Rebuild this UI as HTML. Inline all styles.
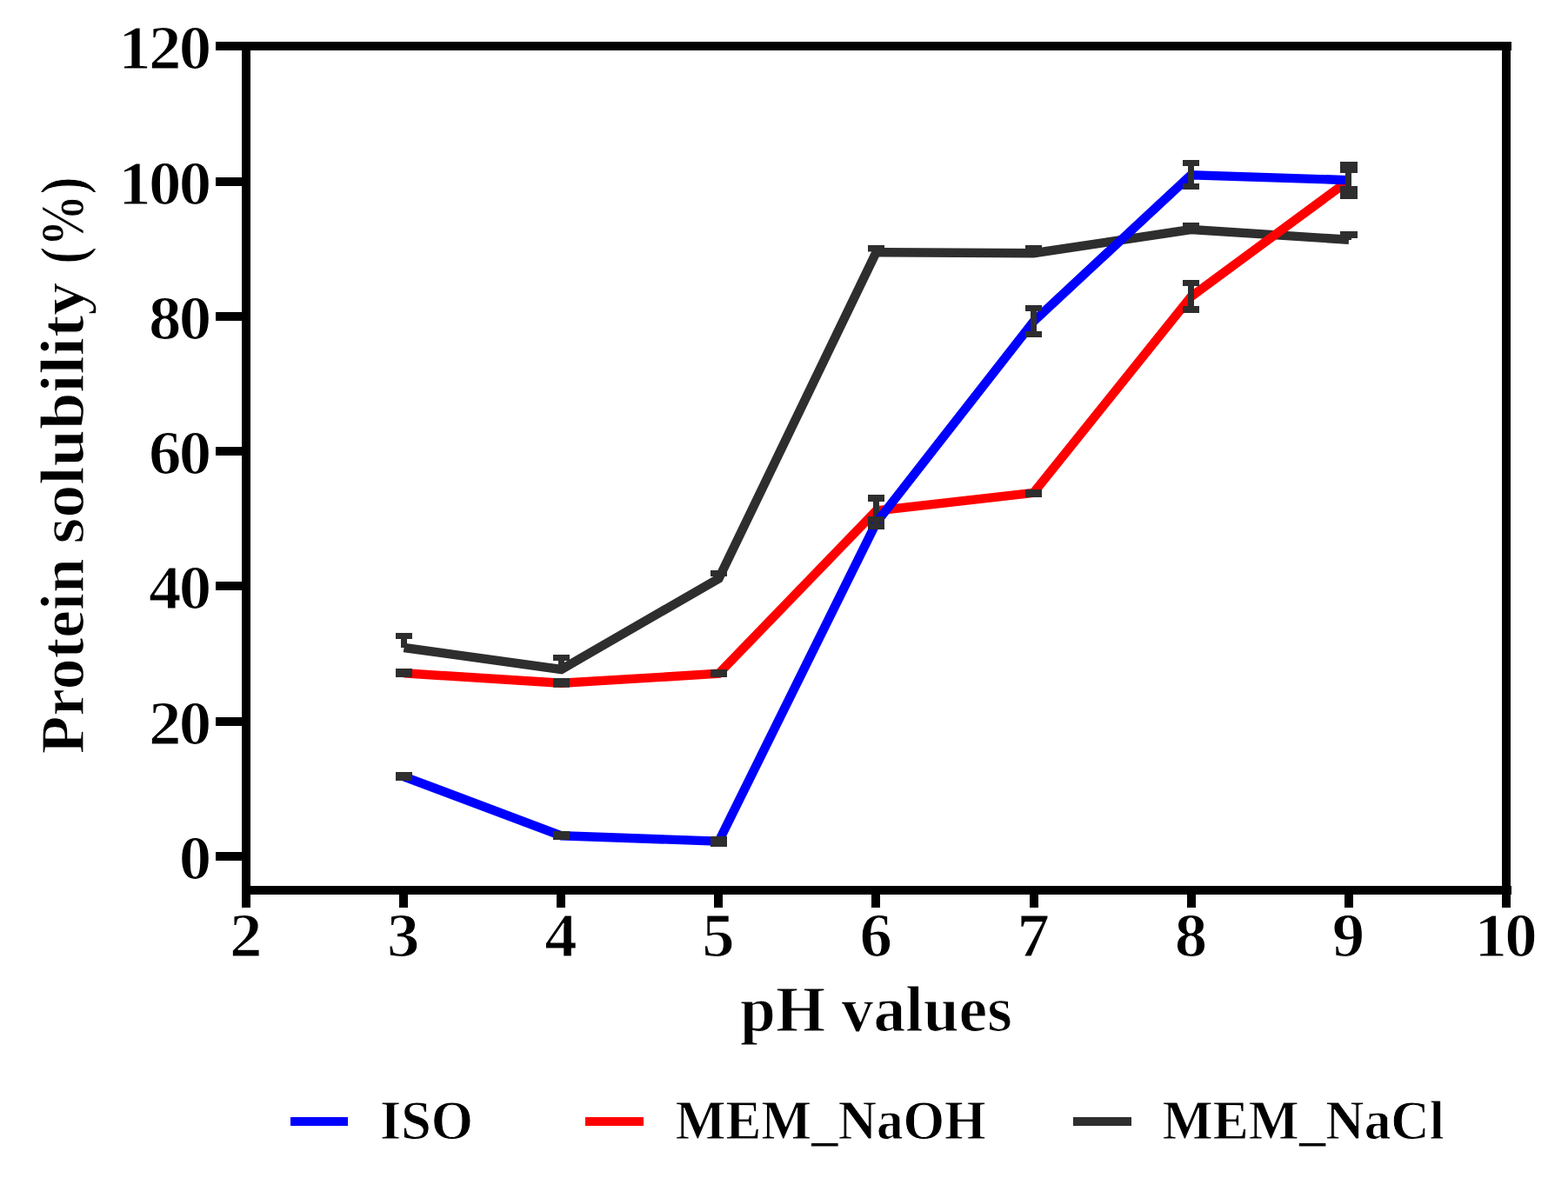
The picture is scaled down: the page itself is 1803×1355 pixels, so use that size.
<!DOCTYPE html>
<html lang="en">
<head>
<meta charset="utf-8">
<title>Protein solubility vs pH values</title>
<style>
html,body{margin:0;padding:0;background:#fff;}
body{width:1803px;height:1355px;overflow:hidden;}
svg{display:block;}
text{font-family:"Liberation Serif","DejaVu Serif",serif;font-weight:bold;fill:#000;stroke:#fff;stroke-width:1.2px;stroke-linejoin:round;}
#legend text{stroke-width:0.9px;}
</style>
</head>
<body>
<svg width="1803" height="1355" viewBox="0 0 1803 1355">
<rect x="0" y="0" width="1803" height="1355" fill="#fff"/>
<g id="series-nacl">
<polyline points="464.5,745.0 645.5,770.0 826.5,665.5 1007.5,290.2 1188.5,291.2 1369.5,264.0 1551.0,275.7" fill="none" stroke="#2e2e2e" stroke-width="10.4" stroke-linejoin="miter" stroke-miterlimit="10"/>
<rect x="455" y="728" width="19" height="7" fill="#2e2e2e"/>
<rect x="461" y="735" width="7" height="10" fill="#2e2e2e"/>
<rect x="636" y="753" width="19" height="7" fill="#2e2e2e"/>
<rect x="642" y="760" width="7" height="10" fill="#2e2e2e"/>
<rect x="817" y="656" width="19" height="7" fill="#2e2e2e"/>
<rect x="823" y="663" width="7" height="3" fill="#2e2e2e"/>
<rect x="998" y="282" width="19" height="7.5" fill="#2e2e2e"/>
<rect x="1004" y="289.5" width="7" height="0.5" fill="#2e2e2e"/>
<rect x="1179" y="282" width="19" height="7" fill="#2e2e2e"/>
<rect x="1185" y="289" width="7" height="2" fill="#2e2e2e"/>
<rect x="1360" y="256" width="19" height="7" fill="#2e2e2e"/>
<rect x="1366" y="263" width="7" height="1" fill="#2e2e2e"/>
<rect x="1541" y="266" width="20" height="8" fill="#2e2e2e"/>
<rect x="1547" y="274" width="7" height="2" fill="#2e2e2e"/>
</g>
<g id="series-naoh">
<polyline points="464.5,774.3 645.5,785.8 826.5,774.8 1007.5,587.5 1188.5,566.8 1369.5,341.3 1551.0,207.5" fill="none" stroke="#ff0000" stroke-width="10.4" stroke-linejoin="miter" stroke-miterlimit="10"/>
<rect x="455" y="769" width="19" height="10" fill="#2e2e2e"/>
<rect x="636" y="780" width="19" height="10.7" fill="#2e2e2e"/>
<rect x="817" y="770" width="19" height="9" fill="#2e2e2e"/>
<rect x="998" y="569" width="19" height="8" fill="#2e2e2e"/>
<rect x="1004" y="577" width="7" height="25" fill="#2e2e2e"/>
<rect x="998" y="601" width="19" height="7" fill="#2e2e2e"/>
<rect x="1179" y="563" width="19" height="9" fill="#2e2e2e"/>
<rect x="1360" y="322" width="19" height="7" fill="#2e2e2e"/>
<rect x="1366" y="329" width="7" height="23" fill="#2e2e2e"/>
<rect x="1360" y="352" width="19" height="8" fill="#2e2e2e"/>
<rect x="1541" y="192" width="20" height="7" fill="#2e2e2e"/>
<rect x="1547" y="199" width="7" height="15" fill="#2e2e2e"/>
<rect x="1541" y="214" width="20" height="8" fill="#2e2e2e"/>
</g>
<g id="series-iso">
<polyline points="464.5,893.3 645.5,961.3 826.5,967.7 1007.5,601.5 1188.5,369.7 1369.5,201.2 1551.0,207.2" fill="none" stroke="#0000ff" stroke-width="10.4" stroke-linejoin="miter" stroke-miterlimit="10"/>
<rect x="455" y="888" width="19" height="10" fill="#2e2e2e"/>
<rect x="636" y="956" width="19" height="10" fill="#2e2e2e"/>
<rect x="817" y="962" width="19" height="12" fill="#2e2e2e"/>
<rect x="998" y="594" width="19" height="7" fill="#2e2e2e"/>
<rect x="1004" y="594" width="7" height="15" fill="#2e2e2e"/>
<rect x="998" y="602" width="19" height="7" fill="#2e2e2e"/>
<rect x="1179" y="351" width="19" height="7" fill="#2e2e2e"/>
<rect x="1185" y="358" width="7" height="23" fill="#2e2e2e"/>
<rect x="1179" y="381" width="19" height="7" fill="#2e2e2e"/>
<rect x="1360" y="184" width="19" height="7" fill="#2e2e2e"/>
<rect x="1366" y="191" width="7" height="20" fill="#2e2e2e"/>
<rect x="1360" y="211" width="19" height="7" fill="#2e2e2e"/>
<rect x="1541" y="186" width="20" height="7" fill="#2e2e2e"/>
<rect x="1547" y="193" width="7" height="29" fill="#2e2e2e"/>
<rect x="1541" y="222" width="20" height="7" fill="#2e2e2e"/>
</g>
<g id="axes">
<rect x="278" y="48" width="10" height="996" fill="#000"/>
<rect x="1727" y="48" width="10" height="996" fill="#000"/>
<rect x="248" y="48" width="1490" height="10" fill="#000"/>
<rect x="278" y="1019" width="1460" height="10" fill="#000"/>
<rect x="248" y="204" width="31" height="10" fill="#000"/>
<rect x="248" y="359" width="31" height="10" fill="#000"/>
<rect x="248" y="514" width="31" height="10" fill="#000"/>
<rect x="248" y="669" width="31" height="10" fill="#000"/>
<rect x="248" y="825" width="31" height="10" fill="#000"/>
<rect x="248" y="980" width="31" height="10" fill="#000"/>
<rect x="459" y="1028" width="10" height="16" fill="#000"/>
<rect x="640" y="1028" width="10" height="16" fill="#000"/>
<rect x="821" y="1028" width="10" height="16" fill="#000"/>
<rect x="1002" y="1028" width="10" height="16" fill="#000"/>
<rect x="1184" y="1028" width="10" height="16" fill="#000"/>
<rect x="1365" y="1028" width="10" height="16" fill="#000"/>
<rect x="1546" y="1028" width="10" height="16" fill="#000"/>
</g>
<g id="ylabels">
<text transform="translate(240.5,78.6) scale(1.05,1)" text-anchor="end" font-size="71.4" letter-spacing="-2.6">120</text>
<text transform="translate(240.5,234.6) scale(1.05,1)" text-anchor="end" font-size="71.4" letter-spacing="-2.6">100</text>
<text transform="translate(240.5,389.6) scale(1.05,1)" text-anchor="end" font-size="71.4" letter-spacing="-2.6">80</text>
<text transform="translate(240.5,544.6) scale(1.05,1)" text-anchor="end" font-size="71.4" letter-spacing="-2.6">60</text>
<text transform="translate(240.5,699.6) scale(1.05,1)" text-anchor="end" font-size="71.4" letter-spacing="-2.6">40</text>
<text transform="translate(240.5,855.6) scale(1.05,1)" text-anchor="end" font-size="71.4" letter-spacing="-2.6">20</text>
<text transform="translate(240.5,1010.6) scale(1.05,1)" text-anchor="end" font-size="71.4" letter-spacing="-2.6">0</text>
</g>
<g id="xlabels">
<text transform="translate(281.3,1100.4) scale(1.05,1)" text-anchor="middle" font-size="71.4" letter-spacing="-2.6">2</text>
<text transform="translate(462.425,1100.4) scale(1.05,1)" text-anchor="middle" font-size="71.4" letter-spacing="-2.6">3</text>
<text transform="translate(643.55,1100.4) scale(1.05,1)" text-anchor="middle" font-size="71.4" letter-spacing="-2.6">4</text>
<text transform="translate(824.675,1100.4) scale(1.05,1)" text-anchor="middle" font-size="71.4" letter-spacing="-2.6">5</text>
<text transform="translate(1005.8,1100.4) scale(1.05,1)" text-anchor="middle" font-size="71.4" letter-spacing="-2.6">6</text>
<text transform="translate(1186.92,1100.4) scale(1.05,1)" text-anchor="middle" font-size="71.4" letter-spacing="-2.6">7</text>
<text transform="translate(1368.05,1100.4) scale(1.05,1)" text-anchor="middle" font-size="71.4" letter-spacing="-2.6">8</text>
<text transform="translate(1549.17,1100.4) scale(1.05,1)" text-anchor="middle" font-size="71.4" letter-spacing="-2.6">9</text>
<text transform="translate(1730.3,1100.4) scale(1.05,1)" text-anchor="middle" font-size="71.4" letter-spacing="-2.6">10</text>
</g>
<text id="xtitle" transform="translate(851,1185.9) scale(1.0085,1)" font-size="73">pH values</text>
<text id="ytitle" transform="translate(96.4,866.8) rotate(-90)" font-size="72.6"><tspan x="-0.5" textLength="225" lengthAdjust="spacingAndGlyphs">Protein</tspan> <tspan x="241.3" textLength="301" lengthAdjust="spacingAndGlyphs">solubility</tspan> <tspan x="563.1" textLength="100.3" lengthAdjust="spacingAndGlyphs">(%)</tspan></text>
<g id="legend">
<rect x="334" y="1285" width="66" height="10" fill="#0000ff"/>
<rect x="673" y="1285" width="67" height="10" fill="#ff0000"/>
<rect x="1234" y="1285" width="67" height="10" fill="#2e2e2e"/>
<text transform="translate(437,1310) scale(0.98,1)" font-size="63.3">ISO</text>
<text transform="translate(776.8,1310) scale(0.9668,1)" font-size="63.3">MEM_NaOH</text>
<text transform="translate(1336.8,1310) scale(0.97,1)" font-size="63.3">MEM_NaCl</text>
</g>
</svg>
</body>
</html>
